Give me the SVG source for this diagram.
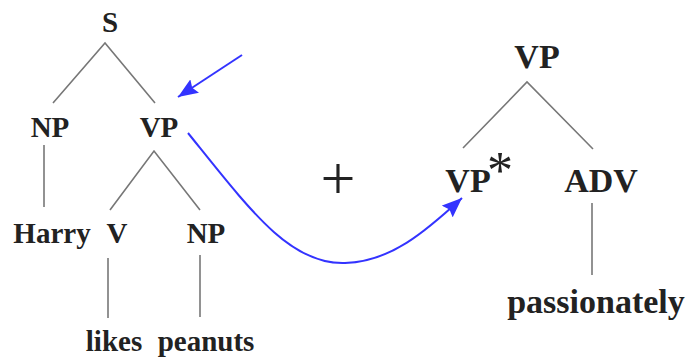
<svg xmlns="http://www.w3.org/2000/svg" width="690" height="359" viewBox="0 0 690 359">
<style>
.t{font-family:"Liberation Serif","Times New Roman",serif;font-weight:bold;fill:#222;text-anchor:middle}
.s{font-size:29px}
.b{font-size:34px}
.e{stroke:#777;stroke-width:1.6;fill:none}
.a{stroke:#3333ff;stroke-width:2;fill:none}
</style>
<defs>
<marker id="ah" markerUnits="userSpaceOnUse" markerWidth="22" markerHeight="16" refX="20" refY="8" orient="auto">
<path d="M0,0 L20,8 L0,16 L3,8 Z" fill="#3333ff"/>
</marker>
</defs>
<rect width="690" height="359" fill="#fff"/>
<g id="edges">
<path class="e" d="M53,103 L105,43 L155,103"/>
<path class="e" d="M44,145 V207"/>
<path class="e" d="M110,210 L154,151 L200,210"/>
<path class="e" d="M108,258 V318"/>
<path class="e" d="M200,255 V317"/>
<path class="e" d="M463,148 L527,82 L593,149"/>
<path class="e" d="M592,203 V275"/>
</g>
<g id="connectors">
<path class="a" d="M242,55 L178,97" marker-end="url(#ah)"/>
<path class="a" d="M188,133 C250,210 290,265 345,263 C390,262 425,232 462,198" marker-end="url(#ah)"/>
</g>
<g id="S"><text class="t s" x="110" y="32">S</text></g>
<g id="NP1"><text class="t s" x="50" y="137">NP</text></g>
<g id="VP1"><text class="t s" x="159" y="137">VP</text></g>
<g id="Harry"><text class="t s" x="52" y="243">Harry</text></g>
<g id="V"><text class="t s" x="117" y="243">V</text></g>
<g id="NP2"><text class="t s" x="206" y="243">NP</text></g>
<g id="likes"><text class="t s" x="114" y="351">likes</text></g>
<g id="peanuts"><text class="t s" x="206" y="351">peanuts</text></g>
<g id="plus"><text x="338" y="199" font-family="Liberation Serif, serif" font-size="62" fill="#222" text-anchor="middle">+</text></g>
<g id="VPtop"><text class="t b" x="537" y="68">VP</text></g>
<g id="VPstar"><text class="t b" x="468" y="192">VP</text><text x="500" y="188" font-family="Liberation Serif, serif" font-size="52" fill="#222" text-anchor="middle">*</text></g>
<g id="ADV"><text class="t b" x="601" y="192">ADV</text></g>
<g id="passionately"><text class="t b" x="596" y="313">passionately</text></g>
</svg>
